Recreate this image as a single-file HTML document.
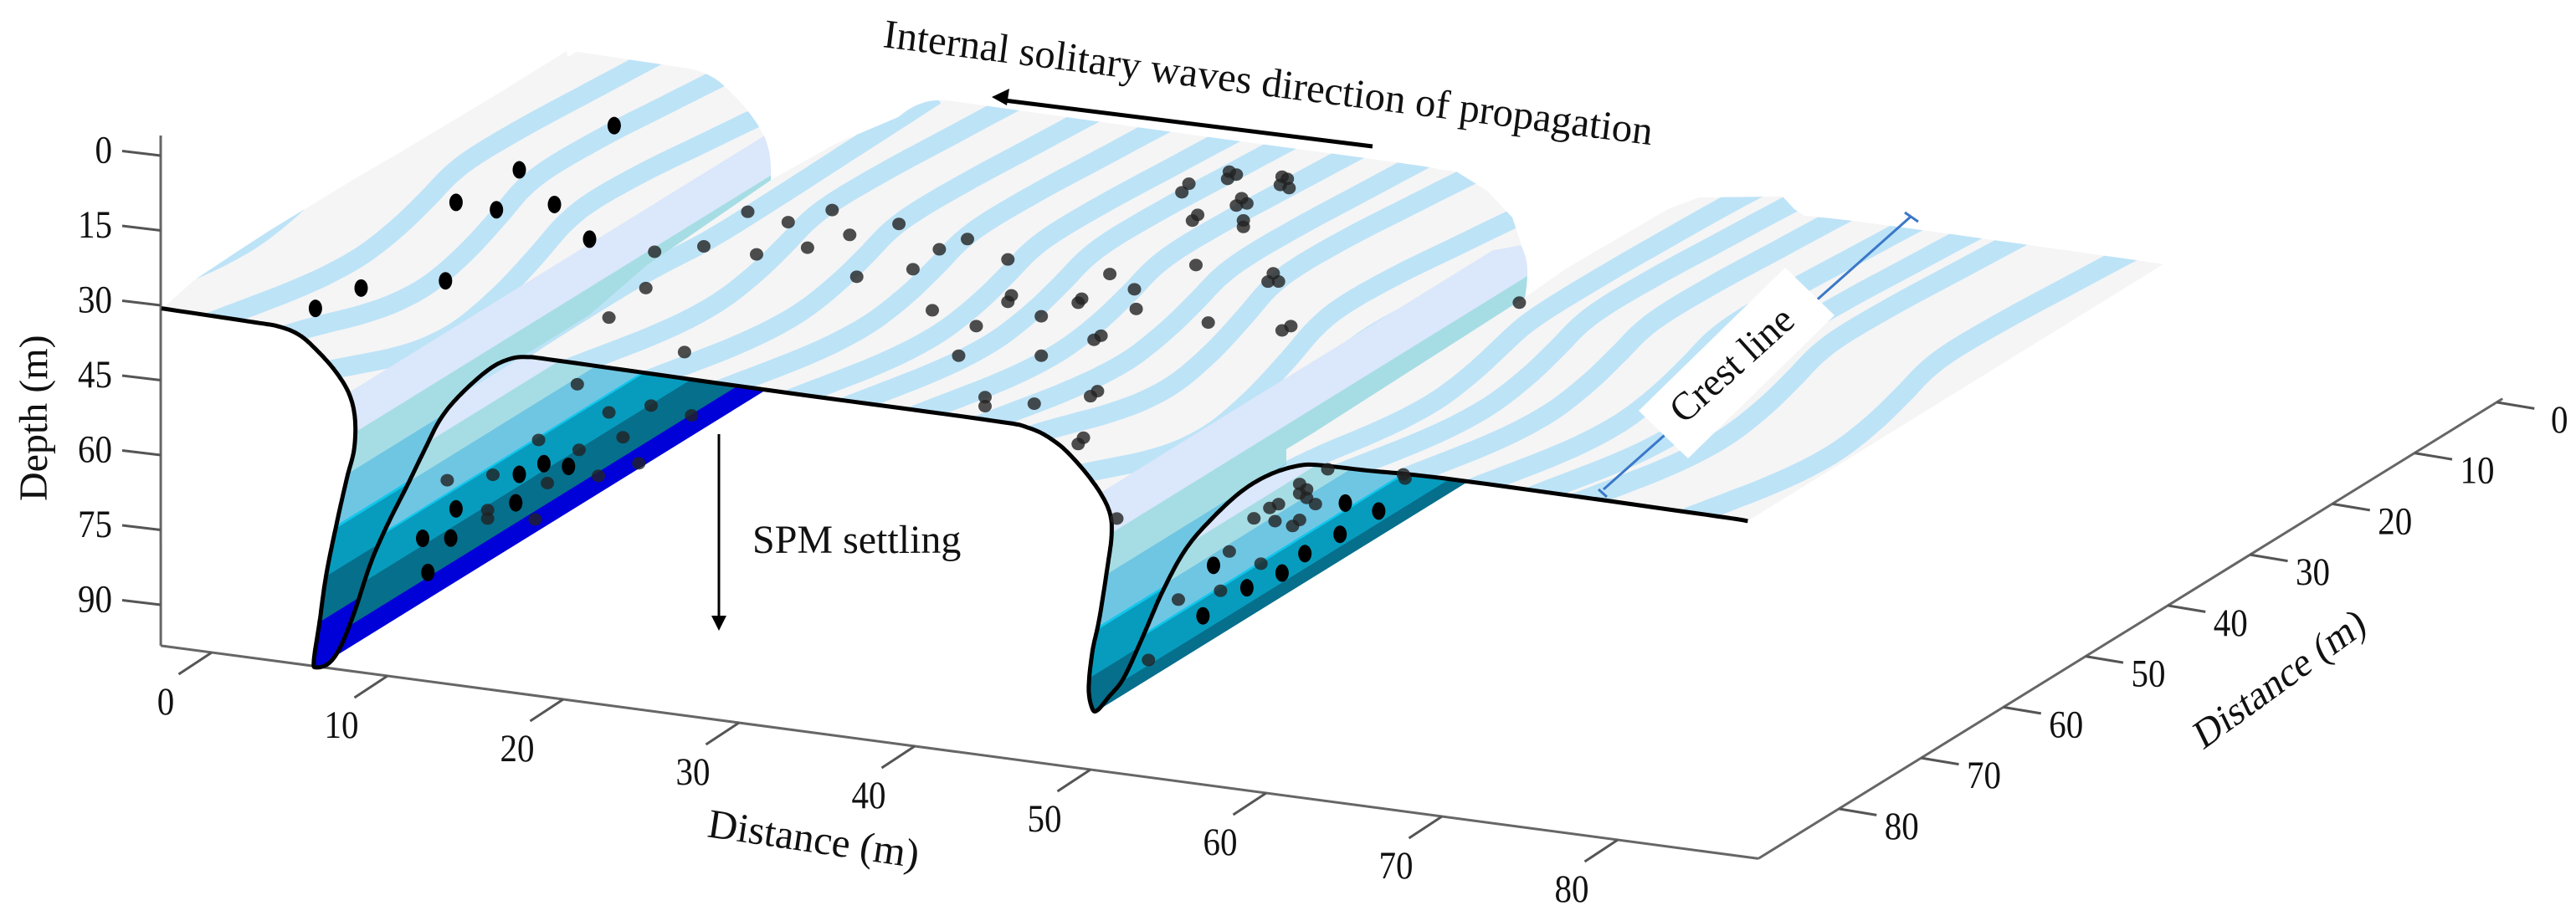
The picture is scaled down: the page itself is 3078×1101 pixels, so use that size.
<!DOCTYPE html>
<html>
<head>
<meta charset="utf-8">
<title>Internal solitary waves SPM settling schematic</title>
<style>
html,body{margin:0;padding:0;background:#fff;}
svg{display:block;}
text{font-family:"Liberation Serif",serif;fill:#111;}
</style>
</head>
<body>
<svg id="chart" width="3078" height="1101" viewBox="0 0 3078 1101" xmlns="http://www.w3.org/2000/svg">
  <defs id="defs"></defs>
  <g id="axes"></g>
  <g id="surface"></g>
  <g id="profile"></g>
  <g id="crest">
    <line x1="2283" y1="259" x2="1916" y2="585" stroke="#3a78c8" stroke-width="3"/>
    <line x1="2276" y1="254" x2="2292" y2="265" stroke="#3a78c8" stroke-width="3"/>
    <line x1="1910" y1="585" x2="1920" y2="594" stroke="#3a78c8" stroke-width="3"/>
    <polygon points="2133,320 2192,377 2017,548 1958,491" fill="#fff"/>
    <text transform="translate(2012,508) rotate(-42)" font-size="47">Crest line</text>
  </g>
  <g id="dots"></g>
  <g>
    <text transform="translate(1054,56) rotate(7.27)" font-size="48.7">Internal solitary waves direction of propagation</text>
    <line x1="1640" y1="175" x2="1200" y2="120" stroke="#000" stroke-width="5"/>
    <polygon points="1185,116 1206,106 1203,126" fill="#000"/>
    <line x1="859" y1="519" x2="859" y2="740" stroke="#000" stroke-width="3"/>
    <polygon points="850,736 868,736 859,754" fill="#000"/>
    <text x="899" y="661" font-size="48">SPM settling</text>
    <text transform="translate(56,599) rotate(-90)" font-size="48">Depth (m)</text>
    <text transform="translate(844,1000) rotate(8.5)" font-size="49">Distance (m)</text>
    <text transform="translate(2632,897) rotate(-36) skewX(-10)" font-size="47">Distance (m)</text>
  </g>
</svg>
<script>
// ---- chart data (metres) ----
const depthTicks = [0, 15, 30, 45, 60, 75, 90];
const xTicks = [0, 10, 20, 30, 40, 50, 60, 70, 80];
const yTicks = [0, 10, 20, 30, 40, 50, 60, 70, 80];

// wave-front profile: distance along x axis and depth at the front of the surface
const profileX = [-2.86,2.24,3.81,4.95,5.9,7,7.8,8.15,8.1,7.71,7.14,6.52,6.14,5.81,5.95,6.67,7.33,8.1,9.05,10,11.14,12.1,13,14.1,15.7,16.86,17.95,20,32,44,46.5,48.1,49.4,50.5,51.1,51.2,50.95,50.5,50.1,49.9,50.1,50.4,51.05,51.9,53,54.1,55.4,56.9,58.6,60.2,61.8,63,65.6,70.9,85,87.4];
const profileDepth = [30.6,30.9,31.1,32.2,34.6,38.4,42.6,47.5,53.7,59.4,68.5,79.5,89.1,97.1,98.4,97.2,93.6,86.5,76,67.9,59.4,52,45.4,40.1,34.3,31.6,30.6,30.5,30.8,30.9,31.4,33.7,37.6,42.2,46.3,50.7,57.5,67.8,74.7,82,85.9,86.1,83.1,78.9,70,60.6,51.6,44.7,38.4,34.3,31.8,31.1,30.9,30.4,30.7,30.85];

// depth bands of the water colouring
const bandTop = [42.5,50.3,58.8,69.5,70.2,80,89.3];
const bandBottom = [50.3,58.8,69.5,70.2,80,89.3,110];
const bandColor = ['#dbe7fa','#a6dde5','#6fc6e3','#12c6ec','#079cbd','#066f8c','#0000d9'];

// surface stripes: arc distance from the start of each surface and wiggle along the crest
const stripesFirst = [-2.8, 3.5, 7.7, 10.8];
const stripesSecond = [0.7, 7.6, 12.2, 16.3, 20.3, 23.5, 27.4, 31.2, 34.1, 37.6, 39.9];
const stripesThird = [1.7, 4.7, 8.2, 12.3, 15.7, 18.3, 24.6];
const wiggleAlong = [-0.08, 0, 0.06, 0.12, 0.19, 0.27, 0.37, 0.47, 0.56, 0.64, 0.76, 0.88, 1, 1.1];
const wiggleShift = [-0.8, 0, 0.65, 1.25, 1.7, 1.8, 1.35, 0.6, -0.15, -0.4, -0.25, 0.1, 0.45, 0.8];

// particles projected on the front plane (distance, depth)
const blackDotX = [5.9,8.5,13.3,13.9,16.2,17.5,19.5,21.5,22.9,18.9,20.3,17.5,13.9,17.3,12,13.6,12.3,64.5,66.4,64.2,62.2,60.9,58.9,57,56.4];
const blackDotDepth = [26.5,21.2,17.5,1.5,1.9,-6.7,-0.7,5.3,-18.1,51.5,51.4,54.3,62.9,60.1,69.7,68.9,76.4,38,38.7,44.4,49.2,53.7,57.6,54,64.4];
const grayDotX = [30.5,32.8,35.3,36.3,33.9,31,28,25.2,24.7,22.6,26.9,36.7,39.1,43,41.4,39.9,45.3,41,45.5,45.3,43.5,42.5,47.2,47.2,49.5,49.3,51.1,52.5,52.6,50.6,50.2,44,44,46.8,50.4,50,49.6,49.3,56.7,56,60.9,61.4,60.4,60.1,60.7,55.6,55.2,57.9,58.3,57.8,60.9,61.2,61.3,60.8,58.6,58.9,58.3,58.7,58.7,56.1,55.8,74.4,20.8,22.6,25,27.3,23.4,18.6,20.9,13.4,16,19.1,22,24.3,15.7,15.7,18.4,51.5,63.5,67.8,67.9,61.9,62.3,61.9,62.3,62.8,60.7,60.2,60.5,59.3,61.9,61.5,57.9,59.7,57.4,55,53.3];
const grayDotDepth = [-4.4,-3.4,-7,-2.5,1.2,3.9,3.7,6.1,13.6,20.5,25.4,5.7,-6,-4.8,-2,2.7,-1.8,10.4,5.3,6.7,12.4,18.8,8.7,16.6,4.1,5,-1.6,0.8,4.7,11,12,26.4,28.2,26.4,22.2,23.4,31.9,33.3,5.5,-5.7,5.1,4,-6.1,-4.3,-4.6,-21.8,-19.9,-25.3,-24.9,-23.8,-25.7,-25.4,-23.6,-24,-20.3,-19.4,-18.7,-15.9,-14.6,-15.8,-14.5,-6.8,34.7,39.5,37,37.9,44.1,46.9,47.8,57.4,55.1,55.3,52.5,48.9,62.3,64,62.9,47.2,31.7,30.7,31.5,35.4,36.3,37.3,38,39,40,41,43.5,43.5,42.6,44,50.8,52.4,58.9,61.8,74.7];

// ---- axis functions ----
const NS = 'http://www.w3.org/2000/svg';
const Y_FRONT = 89.8, DEPTH_BOTTOM = 98.2, X_RIGHT = 88, X_LEFT = -2.9, SWEEP = 50.5;
function project(x, y, d) {
  return [253 + 21 * x - 9.825 * (y - Y_FRONT),
          780 + 2.8 * x + 5.967 * (d - DEPTH_BOTTOM) + 6.075 * (y - Y_FRONT)];
}
function make(tag, parent, attrs) {
  const el = document.createElementNS(NS, tag);
  for (const k in attrs) el.setAttribute(k, attrs[k]);
  parent.appendChild(el);
  return el;
}
function pts(list) { return list.map(p => p[0].toFixed(1) + ',' + p[1].toFixed(1)).join(' '); }
function tickLabel(parent, value, x, y, anchor) {
  const s = String(value);
  const l = make('text', parent, {x:x, y:y, 'font-size':47, 'text-anchor':anchor, textLength:20.5 * s.length, lengthAdjust:'spacingAndGlyphs'});
  l.textContent = s;
  return l;
}

// ---- axes ----
const axesG = document.getElementById('axes');
const AX = {stroke:'#666','stroke-width':3};
function axisLine(a, b, name) {
  const el = make('line', axesG, Object.assign({x1:a[0],y1:a[1],x2:b[0],y2:b[1]}, AX));
  
  
}
axisLine([192,162], project(X_LEFT, Y_FRONT, DEPTH_BOTTOM), 'depth-axis-line');
axisLine(project(X_LEFT, Y_FRONT, DEPTH_BOTTOM), project(X_RIGHT, Y_FRONT, DEPTH_BOTTOM), 'x-axis-line');
axisLine(project(X_RIGHT, Y_FRONT, DEPTH_BOTTOM), project(X_RIGHT, -0.7, DEPTH_BOTTOM), 'y-axis-line');

depthTicks.forEach(v => {
  const yy = 186 + 5.967 * v;
  const t = make('line', axesG, {x1:192, y1:yy, x2:146, y2:yy-5.5, stroke:'#555','stroke-width':3});
  
  
  const l = tickLabel(axesG, v, 134, yy + 8.5, 'end');
  
  
});
xTicks.forEach(v => {
  const p = project(v, Y_FRONT, DEPTH_BOTTOM);
  const t = make('line', axesG, {x1:p[0], y1:p[1], x2:p[0]-39.5, y2:p[1]+26, stroke:'#555','stroke-width':3});
  
  
  const l = tickLabel(axesG, v, p[0]-55, p[1]+74, 'middle');
  
  
});
yTicks.forEach(v => {
  const p = project(X_RIGHT, v, DEPTH_BOTTOM);
  const t = make('line', axesG, {x1:p[0], y1:p[1], x2:p[0]+45, y2:p[1]+7.5, stroke:'#555','stroke-width':3});
  
  
  const l = tickLabel(axesG, v, p[0]+75, p[1]+36, 'middle');
  
  
});

// ---- smooth profile ----
function smooth(xs, ys, from, to, steps) {
  const out = [];
  for (let i = from; i < to; i++) {
    const i0 = Math.max(from, i - 1), i3 = Math.min(to, i + 2);
    for (let s = 0; s < steps; s++) {
      const u = s / steps, u2 = u * u, u3 = u2 * u;
      const cr = (a, b, c, d) => 0.5 * (2*b + (c-a)*u + (2*a-5*b+4*c-d)*u2 + (3*b-a-3*c+d)*u3);
      out.push({x:cr(xs[i0],xs[i],xs[i+1],xs[i3]), d:cr(ys[i0],ys[i],ys[i+1],ys[i3])});
    }
  }
  out.push({x:xs[to], d:ys[to]});
  return out;
}
function bandRuns(line, d0, d1) {
  const runs = []; let cur = null;
  for (let k = 0; k < line.length - 1; k++) {
    const a = line[k], b = line[k+1];
    let ta = 0, tb = 1;
    const dd = b.d - a.d;
    if (Math.abs(dd) < 1e-9) { if (a.d < d0 || a.d > d1) { ta = 1; tb = 0; } }
    else {
      const t0 = (d0 - a.d) / dd, t1 = (d1 - a.d) / dd;
      ta = Math.max(0, Math.min(t0, t1)); tb = Math.min(1, Math.max(t0, t1));
    }
    if (ta <= tb) {
      const pa = {x:a.x+(b.x-a.x)*ta, d:a.d+dd*ta}, pb = {x:a.x+(b.x-a.x)*tb, d:a.d+dd*tb};
      if (!cur) cur = [pa];
      cur.push(pb);
      if (tb < 1) { runs.push(cur); cur = null; }
    } else if (cur) { runs.push(cur); cur = null; }
  }
  if (cur) runs.push(cur);
  return runs;
}
function sweepPoly(run, len) {
  const front = run.map(p => project(p.x, Y_FRONT, p.d));
  const back = run.map(p => project(p.x, Y_FRONT - SWEEP * len, p.d)).reverse();
  return front.concat(back);
}
const surfaceG = document.getElementById('surface');
const defs = document.getElementById('defs');

function drawBands(line, len, topColor) {
  if (topColor) {
    bandRuns(line, -50, bandTop[0]).forEach(run => {
      const el = make('polygon', surfaceG, {points:pts(sweepPoly(run,1)), fill:topColor, stroke:topColor, 'stroke-width':0.8});
      
      
    });
  }
  bandTop.forEach((top, i) => {
    bandRuns(line, top, bandBottom[i]).forEach(run => {
      const el = make('polygon', surfaceG, {points:pts(sweepPoly(run,len)), fill:bandColor[i], stroke:bandColor[i], 'stroke-width':0.8});
      
      
    });
  });
}
const wiggleLine = smooth(wiggleAlong, wiggleShift, 0, wiggleAlong.length - 1, 6);

let clipCount = 0;
function drawTop(line, stripes, patches) {
  const id = 'topclip' + (clipCount++);
  const clip = make('clipPath', defs, {id:id});
  bandRuns(line, -50, bandTop[0]).forEach(run => make('polygon', clip, {points:pts(sweepPoly(run,1))}));
  (patches || []).forEach(p => make('polygon', clip, {points:p}));
  const g = make('g', surfaceG, {'clip-path':'url(#' + id + ')'});
  
  
  make('rect', g, {x:0, y:0, width:3078, height:1101, fill:'#f5f5f5'});
  const scr = line.map(p => project(p.x, Y_FRONT, p.d));
  const arc = [0];
  for (let i = 1; i < scr.length; i++) arc.push(arc[i-1] + Math.hypot(scr[i][0]-scr[i-1][0], scr[i][1]-scr[i-1][1]) / 21);
  function at(s) {
    let i = 0;
    if (s <= 0) i = 0;
    else if (s >= arc[arc.length-1]) i = arc.length - 2;
    else { while (arc[i+1] < s) i++; }
    const f = (s - arc[i]) / (arc[i+1] - arc[i] || 1);
    return [scr[i][0] + (scr[i+1][0]-scr[i][0]) * f, scr[i][1] + (scr[i+1][1]-scr[i][1]) * f];
  }
  stripes.forEach(s0 => {
    const path = wiggleLine.map(w => {
      const p = at(s0 + w.d);
      const off = project(0, Y_FRONT - SWEEP * w.x, 0), base = project(0, Y_FRONT, 0);
      return [p[0] + off[0] - base[0], p[1] + off[1] - base[1]];
    });
    const el = make('polyline', g, {points:pts(path), fill:'none', stroke:'#bde3f7', 'stroke-width':23, 'stroke-linejoin':'round', 'stroke-linecap':'butt'});
    
    
  });
}

// ---- painter's order, back to front ----
const faceFirst = smooth(profileX, profileDepth, 0, 14, 12);
const riseSecond = smooth(profileX, profileDepth, 14, 26, 12);
const faceSecond = smooth(profileX, profileDepth, 23, 41, 12);
const riseThird = smooth(profileX, profileDepth, 41, 50, 12);
const faceThird = smooth(profileX, profileDepth, 49, 55, 12);

drawBands(faceFirst, 1, null);
drawTop(faceFirst, stripesFirst, [
  '197,366 232,335 280,303 323,275 420,216 480,181 590,115 677,61 700,200 300,360'
]);
drawBands(riseSecond, 1.1, '#dbe7fa');
drawBands(faceSecond, 1, null);
drawTop(faceSecond, stripesSecond, [
  '650,424 772,318 923,214 1000,171 1092,132 1131,127 1300,200 800,420',
  '1700,200 1740,205 1777,228 1807,260 1818,293 1780,300 1700,250'
]);
drawBands(riseThird, 1, '#dbe7fa');
drawTop(faceThird, stripesThird, [
  '1537,556 1537,537 1570,517 1820,357 1873,320 1993,250 2030,236 2130,235 2144,250 2165,264 2300,300 1700,560'
]);

// ---- black profile line ----
const allProfile = smooth(profileX, profileDepth, 0, profileX.length - 1, 12);
const profileLine = make('polyline', document.getElementById('profile'), {
  points:pts(allProfile.map(p => project(p.x, Y_FRONT, p.d))),
  fill:'none', stroke:'#000', 'stroke-width':5, 'stroke-linejoin':'round'
});



// ---- particles ----
const dotsG = document.getElementById('dots');
grayDotX.forEach((x, i) => {
  const p = project(x, Y_FRONT, grayDotDepth[i]);
  const el = make('ellipse', dotsG, {cx:p[0], cy:p[1], rx:8, ry:7.5, fill:'#222', 'fill-opacity':0.8});
  
  
});
blackDotX.forEach((x, i) => {
  const p = project(x, Y_FRONT, blackDotDepth[i]);
  const el = make('ellipse', dotsG, {cx:p[0], cy:p[1], rx:8, ry:10.5, fill:'#000'});
  
  
});
</script>
</body>
</html>
